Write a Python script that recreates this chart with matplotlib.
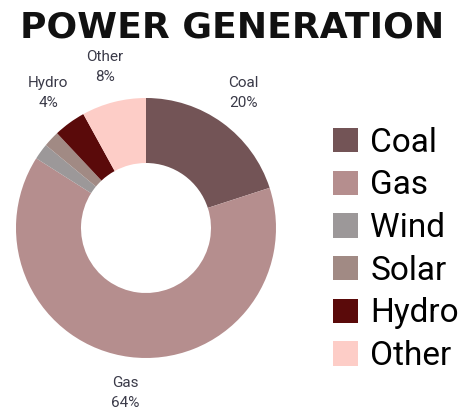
import matplotlib
matplotlib.use("Agg")
import matplotlib.pyplot as plt

sources = ["Coal", "Gas", "Wind", "Solar", "Hydro", "Other"]
shares = [20, 64, 2, 2, 4, 8]
show_label = [True, True, False, False, True, True]
colors = ["#735456", "#b58e8e", "#9c9899", "#a18a84", "#5a0a0a", "#fdcdc7"]

fig = plt.figure(figsize=(4.73, 4.17), dpi=100)
ax = fig.add_axes([0.0338, 0.1415, 0.5497, 0.6235])

labels = [f"{s}\n{v}%" if show else "" for s, v, show in zip(sources, shares, show_label)]
wedges, texts = ax.pie(
    shares, colors=colors, startangle=90, counterclock=False,
    labels=labels, labeldistance=1.28,
    wedgeprops=dict(width=0.5, linewidth=0),
    textprops=dict(fontsize=11, family="Roboto", color="#3a3a48", linespacing=1.55),
)
for t in texts:
    t.set_ha("center")
    t.set_va("center")
ax.set_xlim(-1, 1)
ax.set_ylim(-1, 1)
ax.set_aspect("equal")

fig.text(0.49, 0.911, "POWER GENERATION", ha="center", va="baseline",
         fontsize=26, fontweight="bold", family="DejaVu Sans", color="#111111")

fig.legend(wedges, sources, loc="upper left", bbox_to_anchor=(0.704, 0.696),
           frameon=False, labelspacing=0.32, handlelength=0.76,
           handleheight=0.76, handletextpad=0.36, borderpad=0, borderaxespad=0,
           prop=dict(family="Roboto", size=24))

fig.savefig("out.png", dpi=100)
